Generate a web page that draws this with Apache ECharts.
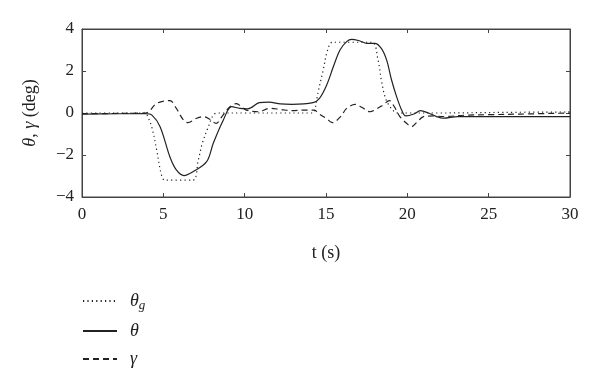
<!DOCTYPE html>
<html>
<head>
<meta charset="utf-8">
<script src="https://cdn.jsdelivr.net/npm/echarts@6/dist/echarts.min.js"></script>
<style>
  html, body { margin: 0; padding: 0; background: #fff; }
  #chart { width: 600px; height: 389px; }
</style>
</head>
<body>
<div id="chart"></div>
<script>
// theta_g (dotted)
var thetaGT = [0, 2, 3.9, 4.0, 4.3, 4.6, 4.9, 5.1, 6.8, 7.15, 7.4, 7.77, 8.07, 8.3, 10, 12, 14.2, 14.3, 14.5, 14.83, 15.1, 15.4, 17.8, 18.2, 18.4, 18.7, 19.2, 19.5, 22, 26, 30];
var thetaGV = [0, 0, 0, -0.1, -0.7, -1.8, -3.0, -3.2, -3.2, -2.24, -1.43, -0.65, -0.1, 0, 0, 0, 0, 0.1, 0.94, 2.05, 3.0, 3.37, 3.37, 2.52, 1.57, 0.62, 0.06, 0, 0, 0.03, 0.05];

// theta (solid)
var thetaT = [0, 3.9, 4.3, 4.8, 5.4, 5.8, 6.27, 6.84, 7.66, 8.07, 8.69, 9.2, 9.7, 10.2, 10.9, 11.5, 12.2, 12.9, 14.2, 14.6, 15.04, 15.45, 15.86, 16.27, 16.58, 17.09, 17.5, 18.0, 18.4, 18.73, 19.03, 19.34, 19.65, 19.9, 20.4, 20.8, 21.3, 21.8, 22.2, 23.1, 24, 27, 30];
var thetaV = [-0.05, -0.03, -0.1, -0.65, -2.08, -2.71, -2.98, -2.79, -2.32, -1.44, -0.33, 0.3, 0.22, 0.2, 0.49, 0.52, 0.43, 0.41, 0.49, 0.7, 1.33, 2.2, 3.0, 3.4, 3.51, 3.43, 3.32, 3.32, 3.08, 2.52, 1.57, 0.78, 0.14, -0.14, -0.05, 0.11, 0.0, -0.17, -0.25, -0.17, -0.17, -0.17, -0.17];

// gamma (dashed)
var gammaT = [0, 3.9, 4.6, 5.4, 5.8, 6.23, 6.5, 7.05, 7.46, 7.86, 8.24, 8.6, 9.1, 9.5, 9.8, 10.1, 10.9, 11.5, 12.2, 12.9, 13.7, 14.3, 14.5, 15.0, 15.4, 15.9, 16.27, 16.8, 17.2, 17.7, 18.0, 18.5, 18.9, 19.2, 19.54, 19.95, 20.26, 20.6, 21.0, 21.6, 22.2, 23.65, 25, 27, 30];
var gammaV = [-0.03, 0, 0.46, 0.59, 0.22, -0.33, -0.46, -0.25, -0.17, -0.3, -0.49, -0.17, 0.3, 0.45, 0.3, 0.14, 0.06, 0.22, 0.17, 0.11, 0.14, 0.14, 0, -0.25, -0.46, -0.17, 0.22, 0.41, 0.27, 0.06, 0.14, 0.38, 0.59, 0.3, -0.17, -0.49, -0.65, -0.43, -0.17, -0.14, -0.17, -0.1, -0.08, -0.05, 0.0];

var xTicks = [0, 30, 5];   // min, max, step
var yTicks = [-4, 4, 2];

function pairs(ts, vs) {
    var out = [];
    for (var i = 0; i < ts.length; i++) {
        out.push([ts[i], vs[i]]);
    }
    return out;
}

var serif = '"Liberation Serif", "DejaVu Serif", serif';
var ink = '#222';
var frame = '#444';

function lineSeries(name, ts, vs, dash) {
    return {
        name: name,
        type: 'line',
        data: pairs(ts, vs),
        symbol: 'none',
        smooth: 0.35,
        lineStyle: { color: ink, width: 1.2, type: dash },
        itemStyle: { color: ink },
        animation: false
    };
}

var tickStyle = { show: true, inside: true, length: 4, lineStyle: { color: frame } };
var lineAx = { show: true, onZero: false, lineStyle: { color: frame, width: 1 } };

var myChart = echarts.init(document.getElementById('chart'));
var option = {
    backgroundColor: '#fff',
    animation: false,
    grid: { left: 82, right: 30, top: 29, bottom: 192, show: true, borderColor: frame, borderWidth: 1 },
    legend: {
        orient: 'vertical',
        left: 77,
        top: 287,
        itemWidth: 34,
        itemHeight: 10,
        itemGap: 10,
        itemStyle: { opacity: 0 },
        data: ['thetaG', 'theta', 'gamma'],
        formatter: function (n) {
            if (n === 'thetaG') return '{i|θ}{s|g}';
            if (n === 'theta') return '{i|θ}';
            return '{i|γ}';
        },
        textStyle: {
            color: ink,
            rich: {
                i: { fontFamily: serif, fontStyle: 'italic', fontSize: 18, color: ink, padding: [0, 0, 0, 8] },
                s: { fontFamily: serif, fontStyle: 'italic', fontSize: 13, color: ink, verticalAlign: 'bottom', padding: [9, 0, 0, 0] }
            }
        }
    },
    xAxis: [
        {
            type: 'value',
            min: xTicks[0], max: xTicks[1], interval: xTicks[2],
            name: 't (s)',
            nameLocation: 'middle',
            nameGap: 47,
            nameTextStyle: { fontFamily: serif, fontSize: 18, color: ink },
            axisLine: lineAx,
            axisTick: tickStyle,
            axisLabel: { fontFamily: serif, fontSize: 17, color: ink, margin: 9 },
            splitLine: { show: false }
        },
        {
            type: 'value', position: 'top',
            min: xTicks[0], max: xTicks[1], interval: xTicks[2],
            axisLine: lineAx, axisTick: tickStyle,
            axisLabel: { show: false }, splitLine: { show: false }
        }
    ],
    yAxis: [
        {
            type: 'value',
            min: yTicks[0], max: yTicks[1], interval: yTicks[2],
            name: '{i|θ}, {i|γ} (deg)',
            nameLocation: 'middle',
            nameRotate: 90,
            nameGap: 43,
            nameTextStyle: {
                fontFamily: serif, fontSize: 18, color: ink,
                rich: { i: { fontFamily: serif, fontStyle: 'italic', fontSize: 18, color: ink } }
            },
            axisLine: lineAx,
            axisTick: tickStyle,
            axisLabel: {
                fontFamily: serif, fontSize: 17, color: ink, margin: 8,
                formatter: function (v) { return v < 0 ? '\u2212' + (-v) : '' + v; }
            },
            splitLine: { show: false }
        },
        {
            type: 'value', position: 'right',
            min: yTicks[0], max: yTicks[1], interval: yTicks[2],
            axisLine: lineAx, axisTick: tickStyle,
            axisLabel: { show: false }, splitLine: { show: false }
        }
    ],
    series: [
        lineSeries('thetaG', thetaGT, thetaGV, [1.2, 3.2]),
        lineSeries('theta', thetaT, thetaV, 'solid'),
        lineSeries('gamma', gammaT, gammaV, [6, 4])
    ]
};
myChart.setOption(option);
</script>
</body>
</html>
